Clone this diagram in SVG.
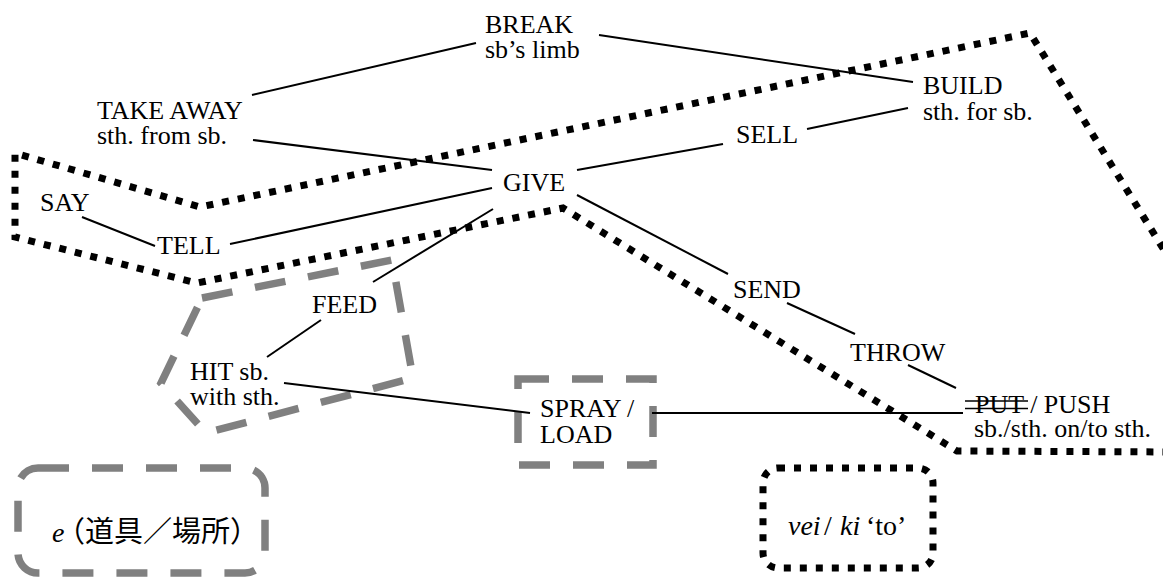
<svg xmlns="http://www.w3.org/2000/svg" width="1163" height="578" viewBox="0 0 1163 578">
  <rect width="1163" height="578" fill="#fff"/>

  <!-- region outlines: dotted black, dashed grey -->
  <g id="regions" fill="none">
    <path stroke="#000" stroke-width="7" stroke-dasharray="7 9" d="M1180,276 L1030,33 L200,207 L15,153 L15,237 L197,283 L563,208 L957,451 L1180,452"/>
    <path stroke="#808080" stroke-width="7.5" stroke-dasharray="31 23" d="M202,298 L392,260 L413,378 L206,433 L161,383 Z"/>
    <rect stroke="#808080" stroke-width="7.5" stroke-dasharray="31 23" x="518" y="379" width="135" height="86"/>
  </g>

  <!-- connectors -->
  <g id="connectors" stroke="#000" stroke-width="2" fill="none">
    <line x1="252" y1="95" x2="476" y2="43"/>
    <line x1="599" y1="35" x2="913" y2="82"/>
    <line x1="253" y1="140" x2="492" y2="170"/>
    <line x1="577" y1="170" x2="723" y2="144"/>
    <line x1="807" y1="129" x2="908" y2="108"/>
    <line x1="230" y1="244" x2="492" y2="188"/>
    <line x1="82" y1="217" x2="155" y2="246"/>
    <line x1="373" y1="282" x2="493" y2="209"/>
    <line x1="321" y1="320" x2="267" y2="357"/>
    <line x1="284" y1="383" x2="530" y2="413"/>
    <line x1="652" y1="413" x2="963" y2="413"/>
    <line x1="577" y1="195" x2="728" y2="274"/>
    <line x1="787" y1="303" x2="855" y2="334"/>
    <line x1="908" y1="365" x2="956" y2="388"/>
  </g>

  <!-- verb nodes -->
  <g font-family="Liberation Serif, Times New Roman, Tinos, serif" font-size="26" fill="#000">
    <g id="break"><text x="485" y="33">BREAK</text><text x="485" y="58">sb&#8217;s limb</text></g>
    <g id="take-away"><text x="97" y="119">TAKE AWAY</text><text x="97" y="144">sth. from sb.</text></g>
    <g id="build"><text x="923" y="94">BUILD</text><text x="923" y="120">sth. for sb.</text></g>
    <g id="sell"><text x="736" y="143">SELL</text></g>
    <g id="give"><text x="503" y="191">GIVE</text></g>
    <g id="say"><text x="40" y="211">SAY</text></g>
    <g id="tell"><text x="157" y="254">TELL</text></g>
    <g id="feed"><text x="312" y="313">FEED</text></g>
    <g id="hit"><text x="190" y="380">HIT sb.</text><text x="190" y="405">with sth.</text></g>
    <g id="spray-load"><text x="540" y="417">SPRAY /</text><text x="540" y="443">LOAD</text></g>
    <g id="send"><text x="733" y="298">SEND</text></g>
    <g id="throw"><text x="850" y="361">THROW</text></g>
    <g id="put-push">
      <text x="975" y="413">PUT / PUSH</text>
      <line stroke="#000" stroke-width="1.6" x1="965" y1="401" x2="1028" y2="401"/>
      <line stroke="#000" stroke-width="1.6" x1="965" y1="408.5" x2="1028" y2="408.5"/>
      <text x="974" y="437">sb./sth. on/to sth.</text>
    </g>
  </g>

  <!-- legend boxes -->
  <g id="legend-e">
    <rect fill="none" stroke="#808080" stroke-width="7.5" stroke-dasharray="31 23" x="18" y="468" width="247" height="105" rx="20"/>
    <text font-family="Liberation Serif, Times New Roman, Tinos, serif" font-size="28" font-style="italic" x="52" y="542">e</text>
    <text font-family="Noto Sans CJK JP, Noto Sans CJK SC, sans-serif" font-size="29" x="56" y="542">&#65288;&#36947;&#20855;&#65295;&#22580;&#25152;&#65289;</text>
  </g>
  <g id="legend-vei">
    <rect fill="none" stroke="#000" stroke-width="7" stroke-dasharray="7 9" x="763" y="468" width="170" height="100" rx="15"/>
    <text font-family="Liberation Serif, Times New Roman, Tinos, serif" font-size="28" y="535"><tspan font-style="italic" x="788">vei</tspan><tspan x="824">/</tspan><tspan font-style="italic" x="840">ki</tspan><tspan x="866">&#8216;to&#8217;</tspan></text>
  </g>
</svg>
